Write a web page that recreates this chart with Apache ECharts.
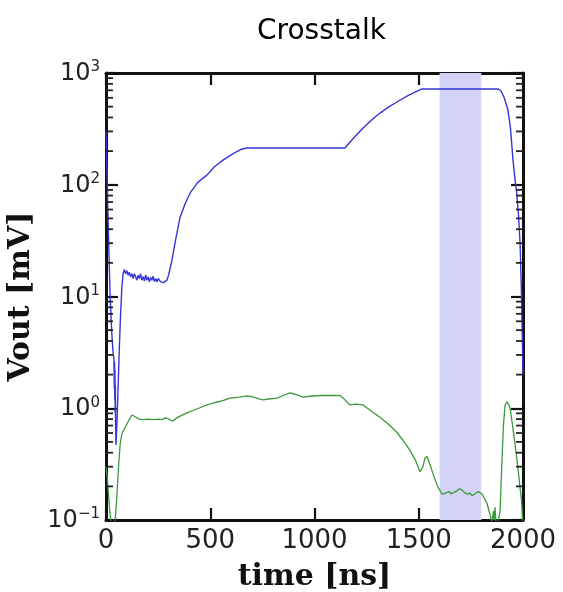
<!DOCTYPE html>
<html>
<head>
<meta charset="utf-8">
<title>Crosstalk</title>
<script src="https://cdn.jsdelivr.net/npm/echarts@6/dist/echarts.min.js"></script>
<style>
  html, body { margin: 0; padding: 0; background: #fff; }
  #chart { width: 563px; height: 592px; }
</style>
</head>
<body>
<div id="chart"></div>
<script>
// shaded window [ns]
var bandRange = [1600, 1800]

// blue trace (ns, mV)
var blueTime = [0, 4, 8, 12, 16, 20, 25, 30, 35, 38, 40, 41, 42, 43, 44, 45, 46, 48, 52, 58, 64, 70, 76, 82,
  88, 94, 100, 106, 112, 118, 124, 130, 136, 142, 148, 154, 160, 166, 172, 178, 184, 190, 196, 202, 208,
  214, 220, 226, 232, 238, 244, 250, 256, 262, 268, 276, 284, 292, 300, 316, 335, 355, 380, 403, 440, 484,
  520, 561, 610, 650, 675, 1146, 1190, 1233, 1274, 1314, 1355, 1395, 1450, 1515, 1880, 1895, 1910, 1928,
  1940, 1952, 1962, 1970, 1978, 1986, 1992, 1996, 2000]
var blueVout = [300, 150, 70, 35, 18, 10, 6, 4, 3, 2.8, 1.5, 2.6, 1.2, 2.2, 0.9, 1.6, 0.7, 0.47, 0.7, 1.5, 3.5, 7, 12, 16,
  17.5, 16, 17, 15.5, 16.5, 15, 16, 14.5, 16, 15, 14, 15.5, 14.5, 16, 14, 15, 13.8, 15.5, 14, 15, 13.5,
  14.8, 14, 15.2, 13.6, 14.5, 13.5, 14.5, 14, 13.5, 13.2, 13.3, 13.5, 14, 15.5, 21, 33, 51, 68, 84, 105, 122,
  145, 166, 190, 208, 213, 213, 265, 322, 380, 438, 495, 550, 630, 720, 720, 690, 600, 466,
  320, 166, 110, 84, 55, 30, 12, 5, 2]

// green trace (ns, mV)
var greenTime = [0, 6, 12, 18, 24, 34, 44, 52, 60, 68, 77, 90, 100, 112, 125, 140, 160, 177, 200, 230, 250, 268,
  285, 297, 310, 321, 340, 360, 388, 420, 450, 484, 520, 560, 595, 640, 676, 700, 730, 753, 780, 820, 850,
  882, 910, 945, 980, 1026, 1070, 1122, 1140, 1170, 1200, 1233, 1270, 1314, 1355, 1395, 1430, 1458, 1485,
  1506, 1520, 1530, 1540, 1552, 1568, 1590, 1612, 1630, 1645, 1655, 1664, 1680, 1695, 1707, 1720, 1735,
  1745, 1755, 1770, 1785, 1794, 1805, 1815, 1827, 1840, 1851, 1858, 1862, 1866, 1870, 1878, 1890, 1898,
  1906, 1914, 1923, 1932, 1938, 1950, 1962, 1975, 1985, 1993, 2000]
var greenVout = [0.3, 0.24, 0.17, 0.12, 0.095, 0.085, 0.1, 0.16, 0.3, 0.48, 0.6, 0.66, 0.72, 0.8, 0.87, 0.84, 0.8, 0.79, 0.8, 0.79, 0.8, 0.79,
  0.82, 0.81, 0.78, 0.77, 0.82, 0.86, 0.91, 0.96, 1.01, 1.07, 1.12, 1.17, 1.23, 1.26, 1.29, 1.27, 1.22, 1.19, 1.21, 1.23, 1.3,
  1.37, 1.33, 1.26, 1.28, 1.3, 1.3, 1.3, 1.22, 1.07, 1.09, 1.07, 0.95, 0.83, 0.72, 0.61, 0.5, 0.42, 0.34,
  0.27, 0.3, 0.36, 0.37, 0.32, 0.26, 0.2, 0.17, 0.175, 0.18, 0.172, 0.177, 0.18, 0.19, 0.186, 0.175, 0.17,
  0.175, 0.165, 0.172, 0.18, 0.186, 0.17, 0.155, 0.142, 0.115, 0.095, 0.12, 0.1, 0.13, 0.095, 0.09, 0.12, 0.3,
  0.7, 1.07, 1.14, 1.08, 1.0, 0.7, 0.47, 0.3, 0.2, 0.15, 0.09]

function pairs(xs, ys) {
  return xs.map(function (x, i) { return [x, ys[i]] })
}

// log minor tick values 2..9 x 10^k
var minorTicks = []
for (var k = -1; k < 3; k++) {
  for (var m = 2; m < 10; m++) {
    minorTicks.push(m * Math.pow(10, k))
  }
}

function powLabel(v) {
  var e = Math.round(Math.log10(v))
  return '{b|10}{s|' + (e < 0 ? '\u2212' + (-e) : e) + '}'
}

var labelRich = {
  b: { fontSize: 24, color: '#222', fontFamily: 'DejaVu Sans', verticalAlign: 'bottom' },
  s: { fontSize: 15, color: '#222', fontFamily: 'DejaVu Sans', verticalAlign: 'bottom', padding: [0, 0, 11, 0] }
}

var boxLine = { show: true, onZero: false, lineStyle: { color: '#111', width: 3 } }
var majorTick = { show: true, inside: true, length: 12, lineStyle: { color: '#111', width: 2.2 } }

var chart = echarts.init(document.getElementById('chart'))
chart.setOption({
  animation: false,
  backgroundColor: '#fff',
  title: {
    text: 'Crosstalk',
    left: 252,
    top: 13,
    textStyle: { fontFamily: 'DejaVu Sans', fontWeight: 'normal', fontSize: 28, color: '#000' }
  },
  grid: { left: 106, right: 40, top: 73, bottom: 72, outerBoundsMode: 'none' },
  xAxis: [{
    type: 'value',
    min: 0,
    max: 2000,
    interval: 500,
    axisLine: boxLine,
    axisTick: majorTick,
    splitLine: { show: false },
    axisLabel: {
      margin: 8,
      fontFamily: 'DejaVu Sans',
      fontSize: 26,
      color: '#222',
      formatter: function (v) { return String(v) }
    },
    name: 'time [ns]',
    nameLocation: 'middle',
    nameGap: 42,
    nameTextStyle: { fontFamily: 'DejaVu Serif', fontWeight: 'bold', fontSize: 30, color: '#111' }
  }, {
    type: 'value',
    position: 'top',
    min: 0,
    max: 2000,
    interval: 500,
    axisLine: boxLine,
    axisTick: majorTick,
    splitLine: { show: false },
    axisLabel: { show: false }
  }],
  yAxis: [{
    type: 'log',
    logBase: 10,
    min: 0.1,
    max: 1000,
    axisLine: boxLine,
    axisTick: majorTick,
    splitLine: { show: false },
    axisLabel: { margin: 6, formatter: powLabel, rich: labelRich },
    name: 'Vout [mV]',
    nameLocation: 'middle',
    nameRotate: 90,
    nameGap: 64,
    nameTextStyle: { fontFamily: 'DejaVu Serif', fontWeight: 'bold', fontSize: 30, color: '#111' }
  }, {
    type: 'log',
    logBase: 10,
    position: 'right',
    min: 0.1,
    max: 1000,
    axisLine: boxLine,
    axisTick: majorTick,
    splitLine: { show: false },
    axisLabel: { show: false }
  }],
  series: [{
    name: 'band',
    type: 'line',
    data: [],
    z: 1,
    markArea: {
      silent: true,
      itemStyle: { color: '#d3d3f7' },
      data: [[{ xAxis: bandRange[0] }, { xAxis: bandRange[1] }]]
    }
  }, {
    name: 'blue',
    type: 'line',
    data: pairs(blueTime, blueVout),
    showSymbol: false,
    clip: true,
    z: 3,
    lineStyle: { color: '#3535d8', width: 1.4 }
  }, {
    name: 'green',
    type: 'line',
    data: pairs(greenTime, greenVout),
    showSymbol: false,
    clip: true,
    z: 3,
    lineStyle: { color: '#3c983c', width: 1.3 }
  }]
})

// minor log ticks on both y sides, placed through the axis scale
var ticks = []
minorTicks.forEach(function (v) {
  var l = chart.convertToPixel({ xAxisIndex: 0, yAxisIndex: 0 }, [0, v])
  var r = chart.convertToPixel({ xAxisIndex: 0, yAxisIndex: 0 }, [2000, v])
  var st = { stroke: '#222', lineWidth: 1.8 }
  ticks.push({ type: 'line', silent: true, z: 100, shape: { x1: l[0], y1: l[1], x2: l[0] + 7, y2: l[1] }, style: st })
  ticks.push({ type: 'line', silent: true, z: 100, shape: { x1: r[0], y1: r[1], x2: r[0] - 7, y2: r[1] }, style: st })
})
chart.setOption({ graphic: ticks })

window.onresize = function () {
  chart.resize()
}
</script>
</body>
</html>
